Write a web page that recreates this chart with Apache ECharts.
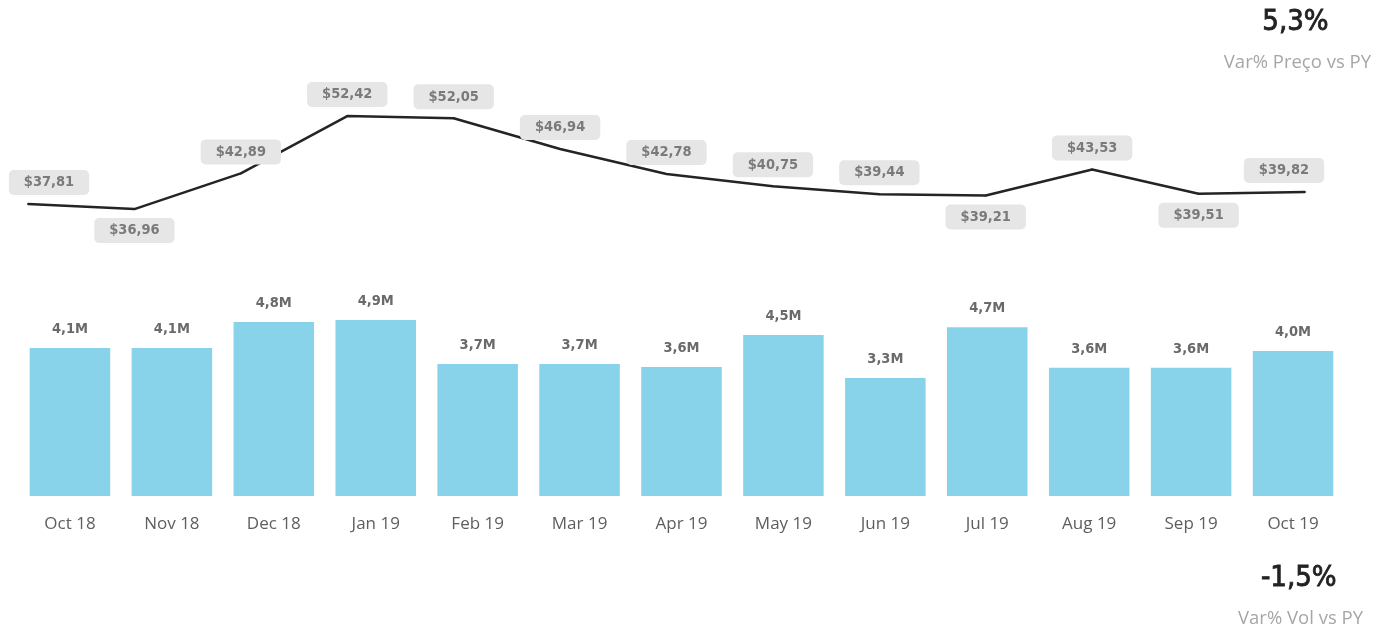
<!DOCTYPE html>
<html>
<head>
<meta charset="utf-8">
<script src="https://cdn.jsdelivr.net/npm/echarts@6/dist/echarts.min.js"></script>
<style>
  html, body { margin: 0; padding: 0; background: #fff; }
  #chart { width: 1375px; height: 627px; }
</style>
</head>
<body>
<div id="chart"></div>
<script>
const months = ['Oct 18', 'Nov 18', 'Dec 18', 'Jan 19', 'Feb 19', 'Mar 19', 'Apr 19',
  'May 19', 'Jun 19', 'Jul 19', 'Aug 19', 'Sep 19', 'Oct 19'];
const price = [37.81, 36.96, 42.89, 52.42, 52.05, 46.94, 42.78, 40.75, 39.44, 39.21, 43.53, 39.51, 39.82];
const volume = [4.11, 4.11, 4.83, 4.89, 3.67, 3.67, 3.58, 4.47, 3.28, 4.69, 3.56, 3.56, 4.03];
const priceVar = '5,3%';
const priceVarLabel = 'Var% Preço vs PY';
const volVar = '-1,5%';
const volVarLabel = 'Var% Vol vs PY';

// labels that sit under the line instead of above
const labelsBelow = [1, 9, 11];

const labelFont = "'DejaVu Sans Condensed', 'Roboto', sans-serif";
const fmt = v => v.toFixed(2).replace('.', ',');

const chart = echarts.init(document.getElementById('chart'));

const priceData = price.map((v, i) => {
  const item = { value: v, label: { show: true, position: labelsBelow.includes(i) ? 'bottom' : 'top' } };
  if (i === 0) item.label.offset = [21, 0];
  if (i === price.length - 1) item.label.offset = [-21, 0];
  return item;
});

chart.setOption({
  animation: false,
  grid: [
    { left: 28, right: 70, top: 100.5, height: 150.5 },
    { left: 19, right: 31, top: 280, bottom: 131 }
  ],
  xAxis: [
    { gridIndex: 0, type: 'category', data: months, boundaryGap: false, show: false },
    {
      gridIndex: 1, type: 'category', data: months,
      axisLine: { show: false }, axisTick: { show: false },
      axisLabel: { color: '#605e5c', fontSize: 17, margin: 20, fontFamily: "'Open Sans', sans-serif" }
    }
  ],
  yAxis: [
    { gridIndex: 0, type: 'value', min: 30, max: 55, show: false },
    { gridIndex: 1, type: 'value', min: 0, max: 6, show: false }
  ],
  series: [
    {
      type: 'line', xAxisIndex: 0, yAxisIndex: 0, data: priceData,
      symbol: 'circle', symbolSize: 2, showSymbol: true,
      itemStyle: { color: '#252423' },
      lineStyle: { color: '#252423', width: 2.5 },
      label: {
        show: true, distance: 8,
        formatter: p => '$' + fmt(p.value),
        color: '#7a7a7a', fontSize: 14.5, fontWeight: 'bold', fontFamily: labelFont,
        backgroundColor: '#e6e6e6', borderRadius: 5, padding: [5, 15]
      }
    },
    {
      type: 'bar', xAxisIndex: 1, yAxisIndex: 1, data: volume,
      barCategoryGap: '21%',
      itemStyle: { color: '#89d3ea' },
      label: {
        show: true, position: 'top', distance: 11,
        formatter: p => p.value.toFixed(1).replace('.', ',') + 'M',
        color: '#6a6a6a', fontSize: 14.5, fontWeight: 'bold', fontFamily: labelFont
      }
    }
  ],
  graphic: [
    { type: 'text', right: 46, top: 8, style: { text: priceVar, fill: '#222', stroke: '#222', lineWidth: 0.8, font: "29px 'DejaVu Sans Condensed', sans-serif" } },
    { type: 'text', right: 4, top: 53, style: { text: priceVarLabel, fill: '#a6a6a6', font: "18.5px 'Open Sans', sans-serif" } },
    { type: 'text', right: 38, top: 564, style: { text: volVar, fill: '#222', stroke: '#222', lineWidth: 0.8, font: "29px 'DejaVu Sans Condensed', sans-serif" } },
    { type: 'text', right: 12, top: 609, style: { text: volVarLabel, fill: '#a6a6a6', font: "18.5px 'Open Sans', sans-serif" } }
  ]
});
</script>
</body>
</html>
